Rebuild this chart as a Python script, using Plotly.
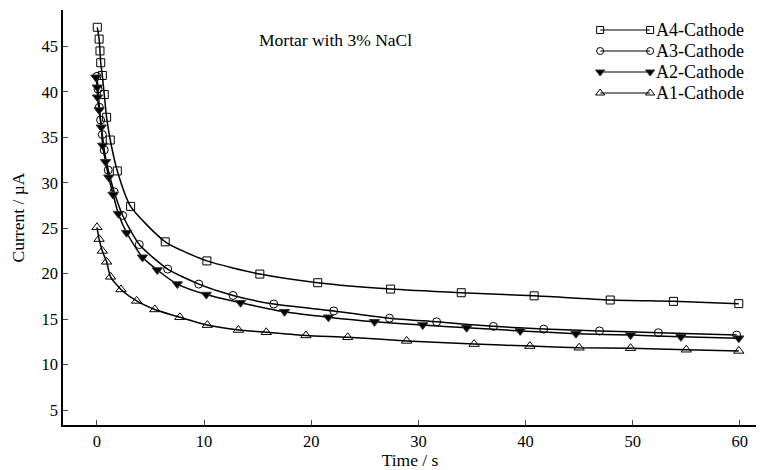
import plotly.graph_objects as go

# A4-Cathode (open squares)
a4_t = [0.03, 0.2, 0.28, 0.35, 0.5, 0.68, 0.9, 1.24, 1.9, 3.14, 6.37, 10.26, 15.2, 20.6, 27.4, 34.0, 40.8, 47.9, 53.8, 59.9]
a4_i = [47.1, 45.8, 44.5, 43.2, 41.8, 39.7, 37.2, 34.7, 31.3, 27.4, 23.5, 21.4, 19.95, 19.0, 18.3, 17.9, 17.56, 17.1, 16.95, 16.7]

# A3-Cathode (open circles)
a3_t = [0.0, 0.1, 0.22, 0.34, 0.5, 0.68, 1.05, 1.6, 2.4, 3.95, 6.6, 9.5, 12.7, 16.5, 22.1, 27.3, 31.7, 37.0, 41.7, 46.9, 52.4, 59.7]
a3_i = [41.7, 40.3, 38.3, 36.9, 35.3, 33.6, 31.4, 29.0, 26.4, 23.2, 20.5, 18.85, 17.6, 16.65, 15.9, 15.1, 14.7, 14.2, 13.9, 13.7, 13.5, 13.24]

# A2-Cathode (filled down triangles)
a2_t = [-0.1, 0.03, 0.05, 0.2, 0.4, 0.53, 0.8, 1.1, 1.5, 2.0, 2.77, 4.25, 5.63, 7.5, 10.2, 13.4, 17.5, 21.6, 25.9, 30.4, 34.5, 39.5, 44.7, 49.8, 54.5, 59.9]
a2_i = [41.6, 40.5, 39.4, 38.0, 36.1, 34.1, 32.3, 30.6, 28.7, 26.6, 24.5, 21.8, 20.4, 18.85, 17.7, 16.8, 15.8, 15.2, 14.7, 14.35, 14.05, 13.7, 13.4, 13.24, 13.05, 12.9]

# A1-Cathode (open up triangles)
a1_t = [0.0, 0.2, 0.5, 0.9, 1.27, 2.24, 3.7, 5.4, 7.74, 10.3, 13.2, 15.8, 19.5, 23.4, 28.9, 35.2, 40.4, 45.0, 49.8, 55.0, 59.9]
a1_i = [25.1, 23.8, 22.5, 21.3, 19.65, 18.26, 17.0, 16.06, 15.2, 14.34, 13.8, 13.55, 13.2, 13.0, 12.6, 12.25, 12.03, 11.85, 11.8, 11.63, 11.5]

series_names = ["A4-Cathode", "A3-Cathode", "A2-Cathode", "A1-Cathode"]
series_t = [a4_t, a3_t, a2_t, a1_t]
series_i = [a4_i, a3_i, a2_i, a1_i]
symbols = ["square-open", "circle-open", "triangle-down", "triangle-up-open"]
sizes = [8, 8, 9, 9]

x_ticks = [0, 10, 20, 30, 40, 50, 60]
y_ticks = [5, 10, 15, 20, 25, 30, 35, 40, 45]

FONT = "Liberation Serif, Times New Roman, serif"

fig = go.Figure()
for name, t, i, sym, sz in zip(series_names, series_t, series_i, symbols, sizes):
    fig.add_trace(go.Scatter(
        x=t, y=i, name=name, mode="lines+markers", showlegend=False,
        line=dict(color="black", width=1.5, shape="spline", smoothing=0.6),
        marker=dict(symbol=sym, size=sz, color="black",
                    line=dict(color="#333333", width=1)),
    ))

# Custom legend: a line with a marker at each end, on an overlay axis pair
n = len(series_names)
for k, (name, sym, sz) in enumerate(zip(series_names, symbols, sizes)):
    row = n - k
    fig.add_trace(go.Scatter(
        x=[0, 1], y=[row, row], mode="lines+markers", showlegend=False,
        xaxis="x2", yaxis="y2", cliponaxis=False, hoverinfo="skip",
        line=dict(color="black", width=1.2),
        marker=dict(symbol=sym, size=sz - 1, color="black",
                    line=dict(color="#333333", width=1)),
    ))
    fig.add_annotation(text=name, xref="x2", yref="y2", x=1, y=row,
                       xanchor="left", yanchor="middle", xshift=4, showarrow=False,
                       font=dict(family=FONT, size=18, color="black"))

fig.add_annotation(text="Mortar with 3% NaCl", xref="paper", yref="paper",
                   x=0.392, y=0.928, xanchor="center", yanchor="middle",
                   showarrow=False,
                   font=dict(family=FONT, size=17.5, color="black"))

fig.update_layout(
    width=756, height=462,
    margin=dict(l=55, r=7, t=2, b=45, autoexpand=False),
    paper_bgcolor="white", plot_bgcolor="white",
    font=dict(family=FONT, size=16.5, color="black"),
    showlegend=False,
    xaxis=dict(range=[-3.17, 61.6], tickvals=x_ticks, ticks="inside", ticklen=5,
               showline=True, linecolor="black", linewidth=1.5, showgrid=False,
               zeroline=False, automargin=False,
               title=dict(text="Time / s", standoff=0, font=dict(size=17.5)),
               tickfont=dict(family=FONT, size=16.5)),
    yaxis=dict(range=[3.35, 49.0], tickvals=y_ticks, ticks="inside", ticklen=5,
               showline=True, linecolor="black", linewidth=1.5, showgrid=False,
               zeroline=False, automargin=False,
               title=dict(text="Current / µA", standoff=12, font=dict(size=17.5)),
               tickfont=dict(family=FONT, size=16.5)),
    xaxis2=dict(domain=[0.774, 0.846], range=[0, 1], visible=False,
                anchor="y2", fixedrange=True),
    yaxis2=dict(domain=[0.7747, 0.9771], range=[0.5, 4.5], visible=False,
                anchor="x2", fixedrange=True),
)

fig.write_html("out.html")
